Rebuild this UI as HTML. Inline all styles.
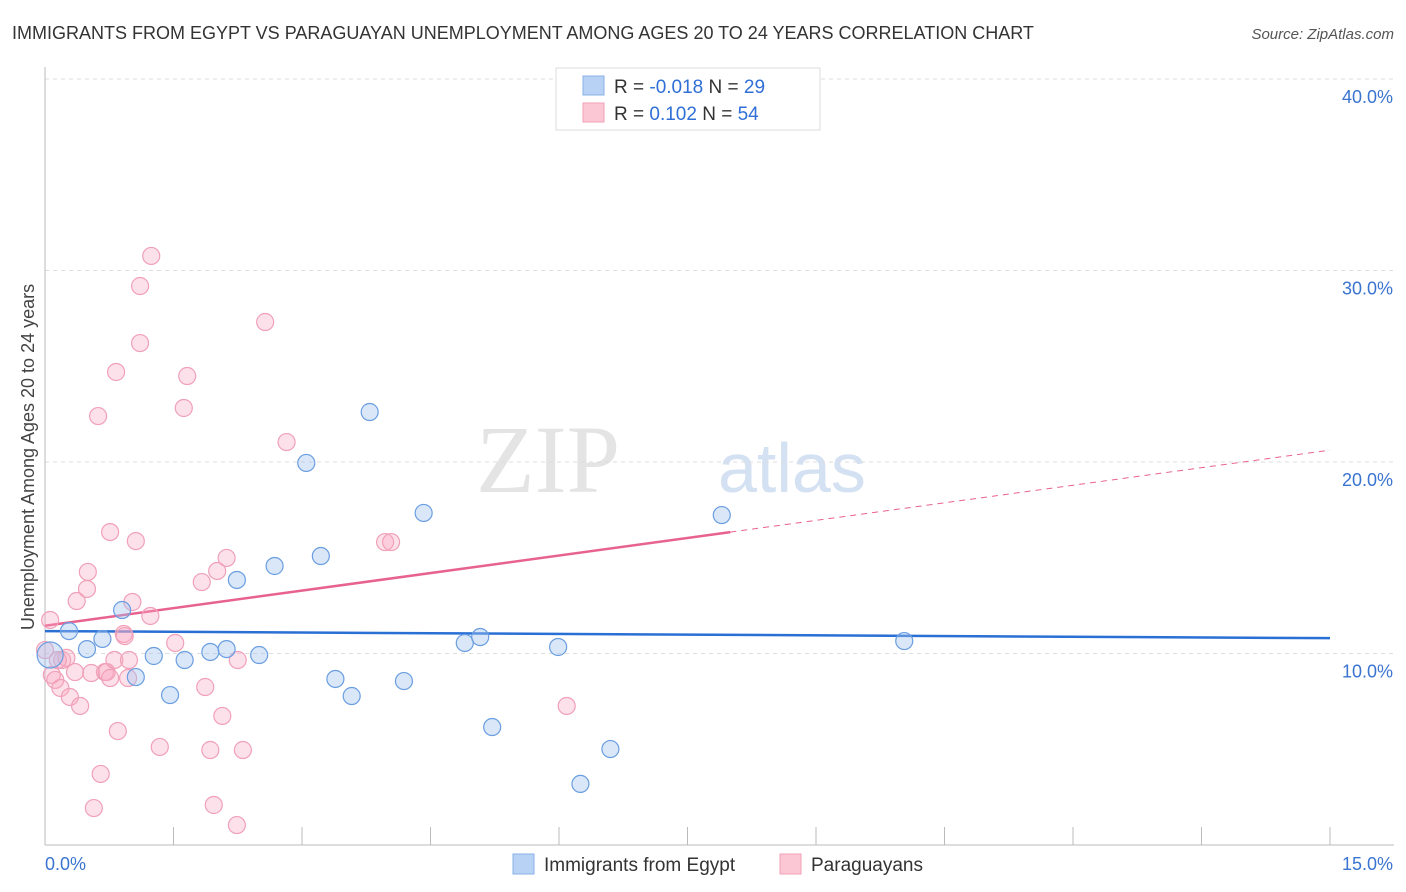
<!DOCTYPE html>
<html><head><meta charset="utf-8"><style>
body{margin:0;background:#fff;font-family:"Liberation Sans",sans-serif;}
svg{display:block}
</style></head><body>
<svg id="chart" width="1406" height="892" xmlns="http://www.w3.org/2000/svg">
<text x="12" y="39" font-size="18" fill="#333">IMMIGRANTS FROM EGYPT VS PARAGUAYAN UNEMPLOYMENT AMONG AGES 20 TO 24 YEARS CORRELATION CHART</text>
<text x="1394" y="39" font-size="15" fill="#555" font-style="italic" text-anchor="end">Source: ZipAtlas.com</text>
<text x="0" y="0" font-size="18" fill="#444" text-anchor="middle" transform="translate(34,457) rotate(-90)">Unemployment Among Ages 20 to 24 years</text>
<text x="620" y="492" font-size="96" fill="#e4e4e4" font-family="Liberation Serif,serif" text-anchor="end">ZIP</text>
<text x="718" y="492" font-size="70" fill="#d3e1f2">atlas</text>
<g id="grid"></g>
<g id="axes"></g>
<g id="trends"></g>
<g id="pts"></g>
<g>
<rect x="556" y="68" width="264" height="62" fill="#fff" stroke="#ddd"/>
<rect x="583" y="76" width="21" height="19" fill="#b8d2f5" stroke="#8ab0e6"/>
<rect x="583" y="103" width="21" height="19" fill="#fbc7d5" stroke="#f0a0b8"/>
<text x="614" y="93" font-size="19" fill="#333">R = <tspan fill="#2f6fd6">-0.018</tspan>    N = <tspan fill="#2f6fd6">29</tspan></text>
<text x="614" y="120" font-size="19" fill="#333">R =  <tspan fill="#2f6fd6"> 0.102</tspan>    N = <tspan fill="#2f6fd6">54</tspan></text>
</g>
<g>
<rect x="513" y="854" width="21" height="20" fill="#b8d2f5" stroke="#8ab0e6"/>
<text x="544" y="871" font-size="19" fill="#333">Immigrants from Egypt</text>
<rect x="780" y="854" width="21" height="20" fill="#fbc7d5" stroke="#f0a0b8"/>
<text x="811" y="871" font-size="19" fill="#333">Paraguayans</text>
</g>
</svg>
<script>
const yTicks=[10,20,30,40];
const yTickLabels=["10.0%","20.0%","30.0%","40.0%"];
const xTicks=[0,1.5,3,4.5,6,7.5,9,10.5,12,13.5,15];
const egyptX=[0.06,0.28,0.49,0.67,0.90,1.06,1.27,1.46,1.63,1.93,2.12,2.24,2.50,2.68,3.05,3.22,3.39,3.58,3.79,4.19,4.42,4.90,5.08,5.22,5.99,6.25,6.60,7.90,10.03];
const egyptY=[9.92,11.17,10.23,10.76,12.27,8.77,9.87,7.83,9.66,10.08,10.23,13.84,9.92,14.57,19.95,15.09,8.67,7.78,22.61,8.56,17.34,10.55,10.86,6.16,10.34,3.19,5.01,17.23,10.65];
const parX=[0.06,0.08,0.12,0.18,0.20,0.25,0.29,0.35,0.37,0.41,0.49,0.50,0.54,0.57,0.62,0.65,0.70,0.72,0.76,0.81,0.83,0.85,0.92,0.93,0.97,0.98,1.02,1.06,1.11,1.11,1.23,1.24,1.34,1.52,1.62,1.66,1.83,1.87,1.93,1.97,2.01,2.07,2.12,2.24,2.25,2.31,2.57,2.82,3.97,4.04,6.09,0.0,0.15,0.76];
const parY=[11.75,8.88,8.62,8.20,9.66,9.77,7.73,9.03,12.74,7.26,13.37,14.26,8.98,1.93,22.40,3.71,9.03,9.03,16.34,9.66,24.70,5.95,11.02,10.91,8.72,9.66,12.69,15.87,26.21,29.19,11.96,30.76,5.12,10.55,22.82,24.49,13.73,8.25,4.96,2.09,14.31,6.74,14.99,1.04,9.66,4.96,27.31,21.04,15.82,15.82,7.26,10.18,9.66,8.72];
const egyptTrend=[11.17,10.80];
const parTrend=[11.45,16.34,20.62];
const parTrendSolidEnd=8.0;
const X0=45,X1=1330,Y0=845,PXY=19.15;
const sx=v=>X0+(X1-X0)*v/15, sy=v=>Y0-v*PXY;
const NS="http://www.w3.org/2000/svg";
function mk(tag,attrs,parent){const e=document.createElementNS(NS,tag);for(const k in attrs)e.setAttribute(k,attrs[k]);parent.appendChild(e);return e;}
const grid=document.getElementById('grid'),axes=document.getElementById('axes'),pts=document.getElementById('pts'),tr=document.getElementById('trends');
yTicks.forEach((t,i)=>{
 const l=mk('line',{x1:X0,x2:1394,y1:sy(t),y2:sy(t),stroke:'#ddd','stroke-dasharray':'4,4'},grid);
 
 
 const tx=mk('text',{x:1393,y:sy(t)+24,'font-size':18,fill:'#3a74d0','text-anchor':'end'},axes);
 tx.textContent=yTickLabels[i];
 
 
});
const ax=mk('line',{x1:X0,x2:1394,y1:Y0,y2:Y0,stroke:'#bbb'},axes);


const ay=mk('line',{x1:X0,x2:X0,y1:67,y2:Y0,stroke:'#bbb'},axes);


xTicks.forEach(t=>{
 const l=mk('line',{x1:sx(t),x2:sx(t),y1:Y0,y2:Y0-18,stroke:'#bbb'},axes);
 
 
});
const xl0=mk('text',{x:45,y:870,'font-size':18,fill:'#3a74d0'},axes);xl0.textContent='0.0%';


const xl1=mk('text',{x:1393,y:870,'font-size':18,fill:'#3a74d0','text-anchor':'end'},axes);xl1.textContent='15.0%';


parX.forEach((x,i)=>{
 const c=mk('circle',{cx:sx(x),cy:sy(parY[i]),r:8.5,fill:'rgba(248,170,195,0.35)',stroke:'#f0a0b8','stroke-width':1.2},pts);
 
 
});
egyptX.forEach((x,i)=>{
 const c=mk('circle',{cx:sx(x),cy:sy(egyptY[i]),r:i===0?13:8.5,fill:'rgba(160,195,240,0.4)',stroke:'#6a9ee0','stroke-width':1.2},pts);
 
 
});
const bt=mk('line',{x1:sx(0),y1:sy(egyptTrend[0]),x2:sx(15),y2:sy(egyptTrend[1]),stroke:'#2a6fd4','stroke-width':2.5},tr);


const pt=mk('line',{x1:sx(0),y1:sy(parTrend[0]),x2:sx(parTrendSolidEnd),y2:sy(parTrend[1]),stroke:'#e8628f','stroke-width':2.5},tr);


const pd=mk('line',{x1:sx(parTrendSolidEnd),y1:sy(parTrend[1]),x2:sx(15),y2:sy(parTrend[2]),stroke:'#e8628f','stroke-width':1,'stroke-dasharray':'6,5'},tr);


</script>
</body></html>
